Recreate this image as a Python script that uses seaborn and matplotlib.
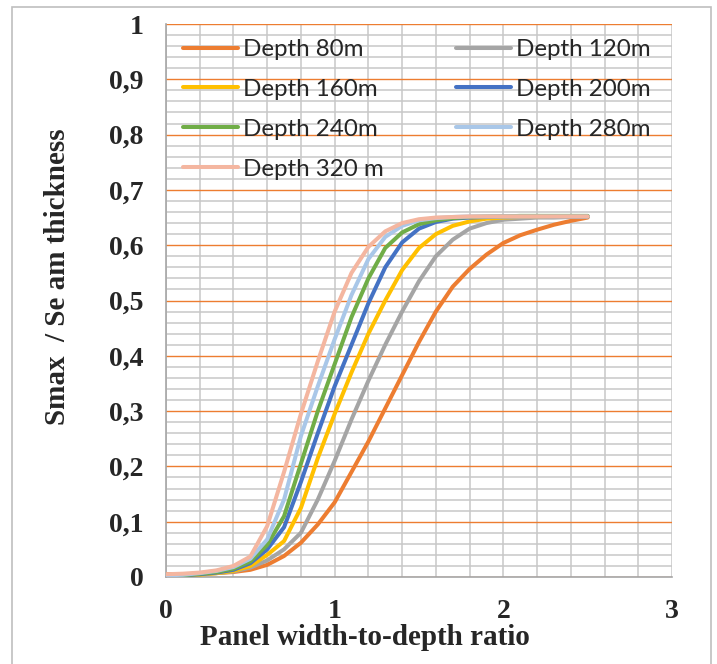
import matplotlib
matplotlib.use("Agg")
import matplotlib.pyplot as plt
from matplotlib.patches import Rectangle
from matplotlib.ticker import MultipleLocator
import numpy as np
import pandas as pd
import seaborn as sns

# Panel width-to-depth ratio
ratio = [0.0, 0.1, 0.2, 0.3, 0.4, 0.5, 0.6, 0.7, 0.8, 0.9, 1.0, 1.1, 1.2,
         1.3, 1.4, 1.5, 1.6, 1.7, 1.8, 1.9, 2.0, 2.1, 2.2, 2.3, 2.4, 2.5]

# Smax / seam thickness for each mining depth
depth_80 = [0.005, 0.005, 0.006, 0.007, 0.009, 0.013, 0.022, 0.038, 0.062, 0.095,
            0.135, 0.19, 0.245, 0.305, 0.365, 0.425, 0.48, 0.525, 0.557, 0.583,
            0.604, 0.618, 0.628, 0.637, 0.644, 0.65]
depth_120 = [0.003, 0.004, 0.005, 0.007, 0.01, 0.017, 0.03, 0.05, 0.08, 0.14,
             0.21, 0.285, 0.355, 0.42, 0.48, 0.535, 0.58, 0.61, 0.63, 0.64,
             0.646, 0.648, 0.65, 0.65, 0.651, 0.652]
depth_160 = [0.0, 0.002, 0.004, 0.007, 0.011, 0.02, 0.04, 0.065, 0.125, 0.215,
             0.295, 0.37, 0.44, 0.5, 0.555, 0.595, 0.62, 0.635, 0.643, 0.648,
             0.65, 0.651, 0.651, 0.652, 0.652, 0.652]
depth_200 = [0.0, 0.003, 0.005, 0.008, 0.013, 0.025, 0.05, 0.09, 0.172, 0.26,
             0.345, 0.42, 0.495, 0.56, 0.605, 0.63, 0.642, 0.648, 0.65, 0.651,
             0.652, 0.652, 0.652, 0.652, 0.652, 0.652]
depth_240 = [0.0, 0.003, 0.006, 0.009, 0.015, 0.028, 0.058, 0.11, 0.205, 0.3,
             0.385, 0.47, 0.54, 0.595, 0.623, 0.638, 0.645, 0.649, 0.651, 0.652,
             0.652, 0.653, 0.653, 0.653, 0.653, 0.653]
depth_280 = [0.003, 0.004, 0.007, 0.011, 0.018, 0.033, 0.068, 0.14, 0.255, 0.345,
             0.43, 0.51, 0.575, 0.615, 0.635, 0.645, 0.649, 0.651, 0.652, 0.652,
             0.652, 0.652, 0.652, 0.652, 0.652, 0.652]
depth_320 = [0.005, 0.006, 0.008, 0.012, 0.02, 0.037, 0.092, 0.19, 0.295, 0.39,
             0.48, 0.55, 0.597, 0.625, 0.64, 0.647, 0.65, 0.651, 0.652, 0.652,
             0.652, 0.652, 0.652, 0.652, 0.652, 0.652]

series_names = ["Depth 80m", "Depth 120m", "Depth 160m", "Depth 200m",
                "Depth 240m", "Depth 280m", "Depth 320 m"]
series_values = [depth_80, depth_120, depth_160, depth_200,
                 depth_240, depth_280, depth_320]
series_colors = ["#ED7D31", "#A5A5A5", "#FFC000", "#4472C4",
                 "#70AD47", "#A9C7E8", "#F4B6A0"]

x_ticks = [0, 1, 2, 3]
x_tick_labels = ["0", "1", "2", "3"]
y_ticks = [0.0, 0.1, 0.2, 0.3, 0.4, 0.5, 0.6, 0.7, 0.8, 0.9, 1.0]
y_tick_labels = ["0", "0,1", "0,2", "0,3", "0,4", "0,5", "0,6", "0,7",
                 "0,8", "0,9", "1"]

df = pd.concat(
    [pd.DataFrame({"ratio": ratio, "value": vals, "depth": name})
     for name, vals in zip(series_names, series_values)],
    ignore_index=True,
)

sns.set_style("white")
plt.rcParams["font.family"] = ["Liberation Serif", "DejaVu Serif"]

fig = plt.figure(figsize=(7.17, 6.64), dpi=100)
ax = fig.add_axes([166 / 717, 1 - 577 / 664, (672 - 166) / 717, (577 - 24) / 664])

sns.lineplot(
    data=df, x="ratio", y="value", hue="depth", hue_order=series_names,
    palette=dict(zip(series_names, series_colors)), linewidth=2.9,
    solid_capstyle="round", solid_joinstyle="round",
    ax=ax, legend=False, zorder=3,
)

ax.set_xlim(0, 3)
ax.set_ylim(0, 1)
ax.set_xticks(x_ticks)
ax.set_xticklabels(x_tick_labels)
ax.set_yticks(y_ticks)
ax.set_yticklabels(y_tick_labels)
ax.xaxis.set_minor_locator(MultipleLocator(0.2))
ax.yaxis.set_minor_locator(MultipleLocator(0.02))

grid_gray = "#C8C8C8"
ax.grid(False)
ax.grid(which="minor", axis="y", color=grid_gray, linewidth=1.1, zorder=0)
ax.grid(which="both", axis="x", color=grid_gray, linewidth=1.1, zorder=0)
ax.grid(which="major", axis="y", color="#ED7D31", linewidth=1.0, zorder=1)
ax.set_axisbelow(True)

for side in ["top", "right"]:
    ax.spines[side].set_visible(False)
for side in ["left", "bottom"]:
    ax.spines[side].set_color("#A6A6A6")
    ax.spines[side].set_linewidth(1.2)

ax.tick_params(which="both", length=0)
ax.tick_params(axis="y", pad=16, labelsize=20)
ax.tick_params(axis="x", pad=16, labelsize=20)
for lab in ax.get_xticklabels() + ax.get_yticklabels():
    lab.set_fontweight("bold")

ax.set_xlabel("Panel width-to-depth ratio", fontsize=21, fontweight="bold")
ax.set_ylabel("Smax  / Se am thickness", fontsize=21, fontweight="bold")
ax.xaxis.set_label_coords((365 - 166) / 506, (577 - 624) / 553)
ax.yaxis.set_label_coords((71 - 166) / 506, (577 - 277) / 553)

# legend: two columns, filled column by column
legend_order = ["Depth 80m", "Depth 160m", "Depth 240m", "Depth 320 m",
                "Depth 120m", "Depth 200m", "Depth 280m"]
color_of = dict(zip(series_names, series_colors))
handles = [plt.Line2D([], [], color=color_of[n], linewidth=2.9) for n in legend_order]
ax.legend(handles, legend_order, ncol=2, loc="upper left",
          bbox_to_anchor=((183 - 166) / 506, (577 - 39) / 553),
          frameon=False, prop={"family": "Lato", "size": 17.4},
          handlelength=2.27, handletextpad=0.2, columnspacing=3.0,
          labelspacing=0.78, borderaxespad=0, borderpad=0)

fig.patches.append(Rectangle((12 / 717, -0.02), (711 - 12) / 717, 1 - 7 / 664 + 0.02,
                             transform=fig.transFigure, fill=False,
                             edgecolor="#BFBFBF", linewidth=1.2))

fig.savefig("out.png", dpi=100)
